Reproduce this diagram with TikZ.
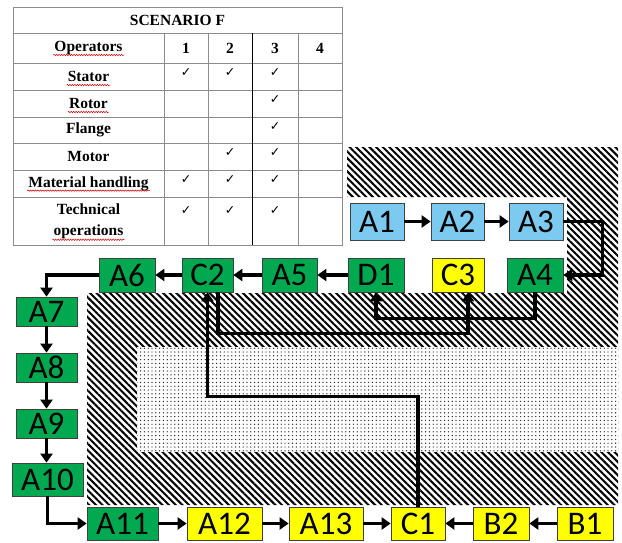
\documentclass[tikz,border=0pt]{standalone}
\usepackage{fontspec}
\setmainfont{Liberation Serif}
\newfontfamily\boxfont{Carlito}
\newfontfamily\tickfont{DejaVu Sans}
\usetikzlibrary{arrows.meta,patterns.meta,decorations.pathmorphing}

\definecolor{boxblue}{RGB}{125,202,240}
\definecolor{boxgreen}{RGB}{0,168,80}
\definecolor{boxyellow}{RGB}{255,255,0}

\begin{document}
\begin{tikzpicture}[x=1pt, y=-1pt,
    box/.style={draw=black!75, line width=0.7pt, inner sep=0pt, font=\boxfont\fontsize{33}{33}\selectfont},
    flow/.style={line width=3.6pt, -{Triangle[length=9pt,width=12pt]}},
    cellt/.style={inner sep=1pt, font=\bfseries\fontsize{15.5}{21}\selectfont},
    tickmark/.style={inner sep=0pt, font=\tickfont\fontsize{12.5}{12.5}\selectfont},
    gridline/.style={draw=black!45, line width=0.7pt},
    spell/.style={draw=red!85!black, line width=0.5pt, decorate, decoration={snake, amplitude=0.7pt, segment length=2.5pt}}]

    \useasboundingbox (0,0) rectangle (622,542);

    % hatched floor
    \fill[pattern={Lines[angle=-45,distance=4.7pt,line width=2pt]}] (347,147) -- (618,147) -- (618,505) -- (87,505) -- (87,293) -- (567,293) -- (567,197) -- (347,197) -- cycle;

    % dotted area
    \fill[white] (137,347) rectangle (618,452);
    \fill[pattern={Dots[distance=3.8pt,radius=0.7pt]}, pattern color=black!85] (137,347) rectangle (618,452);

    % table grid
    \draw[gridline] (13,7) rectangle (342,245);
    \foreach \y in {33,63,90,117,143,170,197}
        \draw[gridline] (13,\y) -- (342,\y);
    \foreach \x in {164,208,298}
        \draw[gridline] (\x,33) -- (\x,245);
    \draw[line width=0.7pt] (252,33) -- (252,245);

    % table texts
    \node[cellt] (title) at (177.5,20) {SCENARIO F};
    \node[cellt] (oper) at (88.5,48) {Operators};
    \node[cellt] (op1) at (186,48) {1};
    \node[cellt] (op2) at (230,48) {2};
    \node[cellt] (op3) at (275,48) {3};
    \node[cellt] (op4) at (320,48) {4};
    \node[cellt] (stator) at (88.5,76.5) {Stator};
    \node[cellt] (rotor) at (88.5,103.5) {Rotor};
    \node[cellt] (flange) at (88.5,130) {Flange};
    \node[cellt] (motor) at (88.5,156.5) {Motor};
    \node[cellt] (handling) at (88.5,183.5) {Material handling};
    \node[cellt, align=center] (techop) at (88.5,221.5) {Technical\\operations};

    % spelling marks
    \foreach \n in {oper,stator,rotor,handling}
        \draw[spell] ([yshift=-3.5pt]\n.base west) -- ([yshift=-3.5pt]\n.base east);
    \draw[spell] ([yshift=0.5pt]techop.south west) -- ([yshift=0.5pt]techop.south east);

    % ticks
    \foreach \y/\cols in {73/{186,230,275}, 100/{275}, 127/{275}, 153/{230,275}, 180/{186,230,275}, 211/{186,230,275}}
        \foreach \x in \cols
            \node[tickmark] (tick-\x-\y) at (\x,\y) {✓};

    % blue row
    \node[box, fill=boxblue, minimum width=54, minimum height=37] (A1) at (377,221.5) {A1};
    \node[box, fill=boxblue, minimum width=53, minimum height=37] (A2) at (457.5,221.5) {A2};
    \node[box, fill=boxblue, minimum width=54, minimum height=37] (A3) at (536,221.5) {A3};

    % upper green row
    \node[box, fill=boxgreen, minimum width=56, minimum height=34] (A4) at (535,275) {A4};
    \node[box, fill=boxyellow, minimum width=52, minimum height=34] (C3) at (458,275) {C3};
    \node[box, fill=boxgreen, minimum width=56, minimum height=34] (D1) at (376,275) {D1};
    \node[box, fill=boxgreen, minimum width=55, minimum height=34] (A5) at (289.5,275) {A5};
    \node[box, fill=boxgreen, minimum width=51, minimum height=34] (C2) at (207.5,275) {C2};
    \node[box, fill=boxgreen, minimum width=56, minimum height=34] (A6) at (127,275) {A6};

    % left column
    \node[box, fill=boxgreen, minimum width=61, minimum height=29] (A7) at (46.5,311.5) {A7};
    \node[box, fill=boxgreen, minimum width=61, minimum height=29] (A8) at (46.5,367.5) {A8};
    \node[box, fill=boxgreen, minimum width=61, minimum height=29] (A9) at (46.5,423.5) {A9};
    \node[box, fill=boxgreen, minimum width=71, minimum height=33] (A10) at (47.5,479.5) {A10};

    % bottom row
    \node[box, fill=boxgreen, minimum width=71, minimum height=33] (A11) at (122.5,523.5) {A11};
    \node[box, fill=boxyellow, minimum width=75, minimum height=33] (A12) at (224.5,523.5) {A12};
    \node[box, fill=boxyellow, minimum width=74, minimum height=33] (A13) at (326,523.5) {A13};
    \node[box, fill=boxyellow, minimum width=54, minimum height=33] (C1) at (418,523.5) {C1};
    \node[box, fill=boxyellow, minimum width=56, minimum height=33] (B2) at (501,523.5) {B2};
    \node[box, fill=boxyellow, minimum width=56, minimum height=33] (B1) at (585,523.5) {B1};

    % flow
    \draw[flow] (A1) -- (A2);
    \draw[flow] (A2) -- (A3);
    \draw[flow] (A3.east) -- ++(39,0) |- (A4.east);
    \draw[flow] (A4.south) -- ++(0,26) -| (D1.south);
    \draw[flow] (D1) -- (A5);
    \draw[flow] (A5) -- (C2);
    \draw[flow] (C2) -- (A6);
    \draw[flow] ([xshift=10.5pt]C2.south) -- ++(0,41) -| ([xshift=10pt]C3.south);
    \draw[flow] (A6.west) -| (A7.north);
    \draw[flow] (A7) -- (A8);
    \draw[flow] (A8) -- (A9);
    \draw[flow] (A9.south) -- (A9.south |- A10.north);
    \draw[flow] (A10.south) |- (A11.west);
    \draw[flow] (A11) -- (A12);
    \draw[flow] (A12) -- (A13);
    \draw[flow] (A13) -- (C1);
    \draw[flow] (B1) -- (B2);
    \draw[flow] (B2) -- (C1);
    \draw[flow] (C1.north) -- ++(0,-110) -| (C2.south);

\end{tikzpicture}
\end{document}
